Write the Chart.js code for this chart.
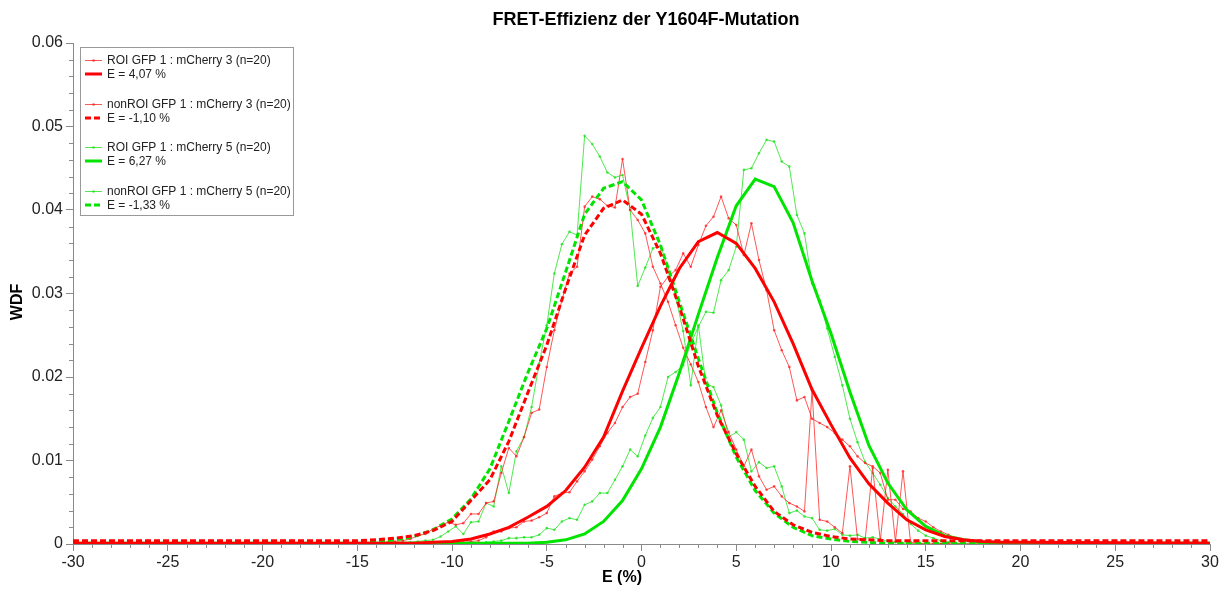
<!DOCTYPE html>
<html>
<head>
<meta charset="utf-8">
<script src="https://cdn.jsdelivr.net/npm/chart.js@4.4.0/dist/chart.umd.min.js"></script>
<style>
  body { margin: 0; background: #fff; }
  #wrap { width: 1228px; height: 590px; }
</style>
</head>
<body>
<div id="wrap"><canvas id="fret-chart" width="1228" height="590"></canvas></div>
<script>
// measured histograms (bins of 0.4 %), 0 outside the listed range
const dataX = [-30,
  -13.8, -13.4, -13.0, -12.6, -12.2, -11.8, -11.4, -11.0, -10.6,
  -10.2, -9.8, -9.4, -9.0, -8.6, -8.2, -7.8, -7.4, -7.0, -6.6,
  -6.2, -5.8, -5.4, -5.0, -4.6, -4.2, -3.8, -3.4, -3.0, -2.6,
  -2.2, -1.8, -1.4, -1.0, -0.6, -0.2, 0.2, 0.6, 1.0, 1.4,
  1.8, 2.2, 2.6, 3.0, 3.4, 3.8, 4.2, 4.6, 5.0, 5.4,
  5.8, 6.2, 6.6, 7.0, 7.4, 7.8, 8.2, 8.6, 9.0, 9.4,
  9.8, 10.2, 10.6, 11.0, 11.4, 11.8, 12.2, 12.6, 13.0, 13.4,
  13.8, 14.2, 14.6, 15.0, 15.4, 15.8, 16.2, 16.6, 17.0,
  30]

const roi3 = [0,
  0, 0, 0, 0, 0, 0, 0, 0, 0,
  0, 0.0001, 0.0002, 0.0003, 0.0004, 0.0008, 0.0015, 0.0015, 0.0019, 0.0020,
  0.0027, 0.0028, 0.0032, 0.0037, 0.0057, 0.0061, 0.0062, 0.0075, 0.0087, 0.0101,
  0.0117, 0.0133, 0.0145, 0.0164, 0.0176, 0.0180, 0.0218, 0.0256, 0.0308, 0.0320,
  0.0328, 0.0348, 0.0332, 0.0358, 0.0381, 0.0392, 0.0416, 0.0390, 0.0382, 0.0346,
  0.0384, 0.0340, 0.0304, 0.0256, 0.0232, 0.0212, 0.0172, 0.0176, 0.0150, 0.0145,
  0.0140, 0.0133, 0.0125, 0.0117, 0.0105, 0.0097, 0.0093, 0.0085, 0.0053, 0.0053,
  0.0042, 0.0039, 0.0031, 0.0027, 0.0020, 0.0015, 0.0011, 0.0007, 0.0003,
  0]

const nonRoi3 = [0,
  0.0001, 0.0002, 0.0003, 0.0004, 0.0006, 0.0010, 0.0012, 0.0018, 0.0022,
  0.0026, 0.0023, 0.0025, 0.0036, 0.0036, 0.0049, 0.0051, 0.0085, 0.0115, 0.0105,
  0.0128, 0.0157, 0.0161, 0.0212, 0.0256, 0.0292, 0.0324, 0.0332, 0.0404, 0.0416,
  0.0413, 0.0405, 0.0403, 0.0461, 0.0400, 0.0388, 0.0372, 0.0332, 0.0312, 0.0290,
  0.0262, 0.0235, 0.0215, 0.0194, 0.0164, 0.0140, 0.0160, 0.0134, 0.0113, 0.0093,
  0.0113, 0.0081, 0.0065, 0.0069, 0.0057, 0.0049, 0.0045, 0.0039, 0.0184, 0.0029,
  0.0027, 0.0020, 0.0013, 0.0093, 0.0006, 0.0005, 0.0091, 0.0004, 0.0089, 0.0003,
  0.0087, 0.0002, 0.0001, 0, 0, 0, 0, 0, 0,
  0]

const roi5 = [0,
  0, 0, 0, 0, 0, 0, 0, 0, 0,
  0, 0, 0, 0, 0.0001, 0.0002, 0.0003, 0.0004, 0.0007, 0.0007,
  0.0008, 0.0008, 0.0011, 0.0019, 0.0017, 0.0027, 0.0031, 0.0029, 0.0047, 0.0051,
  0.0061, 0.0061, 0.0077, 0.0093, 0.0113, 0.0105, 0.0130, 0.0151, 0.0164, 0.0200,
  0.0206, 0.0214, 0.0240, 0.0260, 0.0278, 0.0277, 0.0316, 0.0328, 0.0356, 0.0448,
  0.0450, 0.0468, 0.0484, 0.0482, 0.0458, 0.0452, 0.0394, 0.0372, 0.0312, 0.0292,
  0.0258, 0.0224, 0.0190, 0.0150, 0.0122, 0.0098, 0.0085, 0.0071, 0.0055, 0.0045,
  0.0036, 0.0024, 0.0016, 0.0010, 0.0007, 0.0004, 0.0002, 0.0001, 0,
  0]

const nonRoi5 = [0,
  0, 0.0001, 0.0001, 0.0002, 0.0002, 0.0003, 0.0004, 0.0005, 0.0009,
  0.0015, 0.0021, 0.0012, 0.0026, 0.0027, 0.0049, 0.0045, 0.0093, 0.0061, 0.0111,
  0.0128, 0.0164, 0.0216, 0.0262, 0.0324, 0.0359, 0.0374, 0.0370, 0.0489, 0.0479,
  0.0464, 0.0445, 0.0439, 0.0442, 0.0400, 0.0309, 0.0331, 0.0354, 0.0357, 0.0332,
  0.0296, 0.0255, 0.0190, 0.0262, 0.0192, 0.0188, 0.0166, 0.0128, 0.0134, 0.0125,
  0.0087, 0.0098, 0.0091, 0.0093, 0.0069, 0.0037, 0.0040, 0.0033, 0.0031, 0.0017,
  0.0016, 0.0018, 0.0011, 0.0010, 0.0011, 0.0007, 0.0008, 0.0006, 0.0003, 0.0002,
  0.0001, 0.0001, 0, 0, 0, 0, 0, 0, 0,
  0]

// fitted curves
const fitX = [-30,
  -15, -14, -13, -12, -11, -10, -9, -8, -7, -6,
  -5, -4, -3, -2, -1, 0, 1, 2, 3, 4,
  5, 6, 7, 8, 9, 10, 11, 12, 13, 14,
  15, 16, 17, 18, 19, 20,
  30]

const fitRoi3 = [0.0001,
  0.0001, 0.0001, 0.0001, 0.0001, 0.0002, 0.0003, 0.0006, 0.0012, 0.0020, 0.0032,
  0.0045, 0.0064, 0.0092, 0.0128, 0.0183, 0.0235, 0.0285, 0.0330, 0.0362, 0.0373,
  0.0360, 0.0330, 0.0290, 0.0240, 0.0185, 0.0143, 0.0103, 0.0072, 0.0049, 0.0029,
  0.0017, 0.0009, 0.0005, 0.0003, 0.0002, 0.0002,
  0.0001]

const fitNonRoi3 = [0.0004,
  0.0004, 0.0005, 0.0007, 0.0010, 0.0016, 0.0027, 0.0052, 0.0077, 0.0123, 0.0181,
  0.0238, 0.0306, 0.0370, 0.0402, 0.0412, 0.0395, 0.0348, 0.0284, 0.0213, 0.0154,
  0.0108, 0.0069, 0.0039, 0.0023, 0.0014, 0.0009, 0.0006, 0.0005, 0.0004, 0.0004,
  0.0004, 0.0004, 0.0004, 0.0004, 0.0004, 0.0004,
  0.0004]

const fitRoi5 = [0.0001,
  0.0001, 0.0001, 0.0001, 0.0001, 0.0001, 0.0001, 0.0001, 0.0001, 0.0001, 0.0001,
  0.0002, 0.0005, 0.0012, 0.0027, 0.0052, 0.0090, 0.0140, 0.0205, 0.0275, 0.0343,
  0.0405, 0.0437, 0.0428, 0.0385, 0.0315, 0.0252, 0.0182, 0.0118, 0.0073, 0.0041,
  0.0021, 0.0010, 0.0005, 0.0002, 0.0001, 0.0001,
  0.0001]

const fitNonRoi5 = [0.0001,
  0.0002, 0.0003, 0.0005, 0.0009, 0.0017, 0.0030, 0.0054, 0.0090, 0.0147, 0.0205,
  0.0258, 0.0326, 0.0395, 0.0426, 0.0434, 0.0412, 0.0358, 0.0290, 0.0222, 0.0157,
  0.0104, 0.0064, 0.0037, 0.0020, 0.0010, 0.0006, 0.0003, 0.0002, 0.0001, 0.0001,
  0.0001, 0.0001, 0.0001, 0.0001, 0.0001, 0.0001,
  0.0001]

const xTicks = [-30, -25, -20, -15, -10, -5, 0, 5, 10, 15, 20, 25, 30]
const yTicks = [0, 0.01, 0.02, 0.03, 0.04, 0.05, 0.06]

const FONT = '"Liberation Sans", Arial, sans-serif'
const RED = '#ff0000'
const RED_THIN = 'rgba(255,30,30,0.75)'
const GREEN = '#00e400'
const GREEN_THIN = 'rgba(20,225,20,0.75)'

function measured(label, ys, color) {
  return {
    label: label,
    data: dataX.map((x, i) => ({ x: x, y: ys[i] })),
    borderColor: color,
    backgroundColor: color,
    borderWidth: 1,
    pointRadius: 1.3,
    pointBorderWidth: 0,
    pointBackgroundColor: color,
    tension: 0,
    order: 2
  }
}

function fitted(label, ys, color, dashed) {
  return {
    label: label,
    data: fitX.map((x, i) => ({ x: x, y: ys[i] })),
    borderColor: color,
    borderWidth: 3,
    borderDash: dashed ? [6, 3] : [],
    pointRadius: 0,
    tension: 0,
    order: 1
  }
}

const datasets = [
  measured('ROI GFP 1 : mCherry 3 (n=20)', roi3, RED_THIN),
  fitted('E = 4,07 %', fitRoi3, RED, false),
  measured('nonROI GFP 1 : mCherry 3 (n=20)', nonRoi3, RED_THIN),
  fitted('E = -1,10 %', fitNonRoi3, RED, true),
  measured('ROI GFP 1 : mCherry 5 (n=20)', roi5, GREEN_THIN),
  fitted('E = 6,27 %', fitRoi5, GREEN, false),
  measured('nonROI GFP 1 : mCherry 5 (n=20)', nonRoi5, GREEN_THIN),
  fitted('E = -1,33 %', fitNonRoi5, GREEN, true)
]

// minor ticks, titles and the boxed legend
const decorations = {
  id: 'decorations',
  afterDraw(chart) {
    const ctx = chart.ctx
    const xs = chart.scales.x
    const ys = chart.scales.y
    const area = chart.chartArea
    ctx.save()

    ctx.strokeStyle = '#8a8a8a'
    ctx.lineWidth = 1
    ctx.beginPath()
    for (let v = -30; v <= 30; v++) {
      if (v % 5 === 0) continue
      const px = Math.round(xs.getPixelForValue(v)) + 0.5
      ctx.moveTo(px, area.bottom)
      ctx.lineTo(px, area.bottom + 4)
    }
    for (let k = 1; k < 30; k++) {
      if (k % 5 === 0) continue
      const py = Math.round(ys.getPixelForValue(k * 0.002)) + 0.5
      ctx.moveTo(area.left - 4, py)
      ctx.lineTo(area.left, py)
    }
    ctx.stroke()

    ctx.fillStyle = '#000'
    ctx.textAlign = 'center'
    ctx.textBaseline = 'middle'
    ctx.font = 'bold 18px ' + FONT
    ctx.fillText('FRET-Effizienz der Y1604F-Mutation', 646, 20)
    ctx.font = 'bold 16px ' + FONT
    ctx.fillText('E (%)', 622, 578)
    ctx.save()
    ctx.translate(18, 302)
    ctx.rotate(-Math.PI / 2)
    ctx.fillText('WDF', 0, 0)
    ctx.restore()

    // legend
    ctx.fillStyle = '#fff'
    ctx.fillRect(80, 47, 213, 168)
    ctx.strokeStyle = '#999'
    ctx.lineWidth = 1
    ctx.strokeRect(80.5, 47.5, 213, 168)
    ctx.textAlign = 'left'
    ctx.font = '12px ' + FONT
    for (let g = 0; g < 4; g++) {
      const dataDs = chart.data.datasets[g * 2]
      const fitDs = chart.data.datasets[g * 2 + 1]
      const y1 = Math.round(60 + g * 43.6) + 0.5
      const y2 = y1 + 14
      ctx.strokeStyle = dataDs.borderColor
      ctx.lineWidth = 1
      ctx.setLineDash([])
      ctx.beginPath()
      ctx.moveTo(85, y1)
      ctx.lineTo(102, y1)
      ctx.stroke()
      ctx.fillStyle = dataDs.borderColor
      ctx.beginPath()
      ctx.arc(93.5, y1, 1.3, 0, Math.PI * 2)
      ctx.fill()
      ctx.strokeStyle = fitDs.borderColor
      ctx.lineWidth = 3
      ctx.setLineDash(fitDs.borderDash.length ? [6, 3] : [])
      ctx.beginPath()
      ctx.moveTo(85, y2 - 0.5)
      ctx.lineTo(102, y2 - 0.5)
      ctx.stroke()
      ctx.setLineDash([])
      ctx.fillStyle = '#222'
      ctx.fillText(dataDs.label, 107, y1)
      ctx.fillText(fitDs.label, 107, y2)
    }
    ctx.restore()
  }
}

const chart = new Chart(document.getElementById('fret-chart'), {
  type: 'line',
  data: { datasets: datasets },
  options: {
    responsive: false,
    animation: false,
    devicePixelRatio: 1,
    layout: { padding: { top: 43, right: 18, left: 0, bottom: 0 } },
    plugins: {
      legend: { display: false },
      tooltip: { enabled: false },
      title: { display: false }
    },
    scales: {
      x: {
        type: 'linear',
        min: -30,
        max: 30,
        afterFit: (s) => { s.height = 46 },
        afterBuildTicks: (s) => { s.ticks = xTicks.map(v => ({ value: v })) },
        border: { color: '#8a8a8a', width: 1 },
        grid: { drawOnChartArea: false, drawTicks: true, tickLength: 7, tickColor: '#8a8a8a' },
        ticks: {
          color: '#222',
          padding: 2,
          maxRotation: 0,
          font: { family: FONT, size: 16 },
          callback: (v) => String(v)
        }
      },
      y: {
        type: 'linear',
        min: 0,
        max: 0.06,
        afterFit: (s) => { s.width = 73 },
        afterBuildTicks: (s) => { s.ticks = yTicks.map(v => ({ value: v })) },
        border: { color: '#8a8a8a', width: 1 },
        grid: { drawOnChartArea: false, drawTicks: true, tickLength: 7, tickColor: '#8a8a8a' },
        ticks: {
          color: '#222',
          padding: 3,
          font: { family: FONT, size: 16 },
          callback: (v) => v === 0 ? '0' : v.toFixed(2)
        }
      }
    }
  },
  plugins: [decorations]
})
</script>
</body>
</html>
